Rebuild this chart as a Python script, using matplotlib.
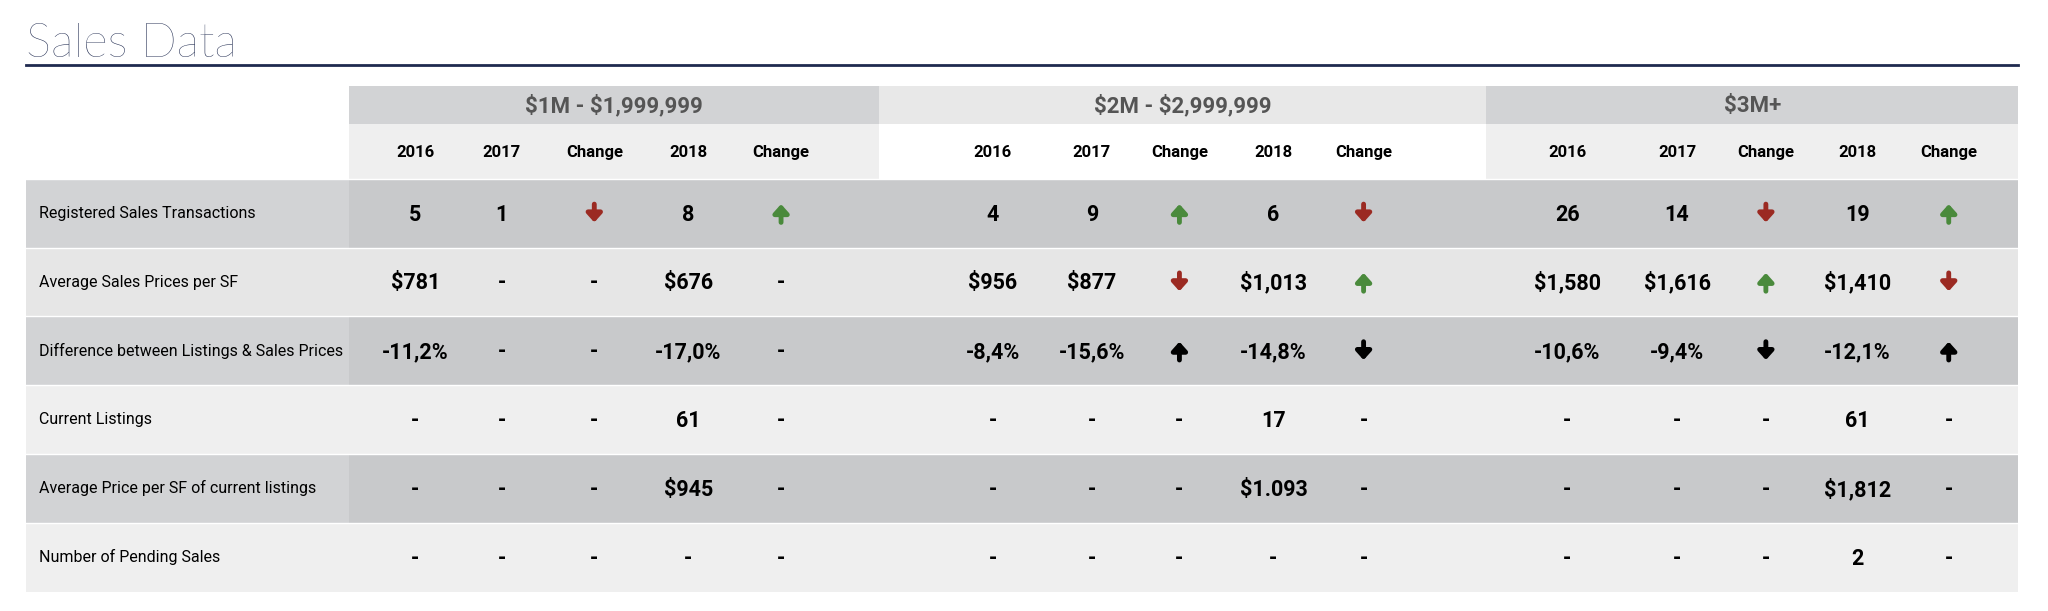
import matplotlib.pyplot as plt
from matplotlib.patches import Rectangle

plt.rcParams["text.parse_math"] = False

groups = ["$1M - $1,999,999", "$2M - $2,999,999", "$3M+"]
columns = ["2016", "2017", "Change", "2018", "Change"]
row_labels = [
    "Registered Sales Transactions",
    "Average Sales Prices per SF",
    "Difference between Listings & Sales Prices",
    "Current Listings",
    "Average Price per SF of current listings",
    "Number of Pending Sales",
]
# U = up green, D = down red, u = up black, d = down black
values_1m = [
    ["5", "1", "D", "8", "U"],
    ["$781", "-", "-", "$676", "-"],
    ["-11,2%", "-", "-", "-17,0%", "-"],
    ["-", "-", "-", "61", "-"],
    ["-", "-", "-", "$945", "-"],
    ["-", "-", "-", "-", "-"],
]
values_2m = [
    ["4", "9", "U", "6", "D"],
    ["$956", "$877", "D", "$1,013", "U"],
    ["-8,4%", "-15,6%", "u", "-14,8%", "d"],
    ["-", "-", "-", "17", "-"],
    ["-", "-", "-", "$1.093", "-"],
    ["-", "-", "-", "-", "-"],
]
values_3m = [
    ["26", "14", "D", "19", "U"],
    ["$1,580", "$1,616", "U", "$1,410", "D"],
    ["-10,6%", "-9,4%", "d", "-12,1%", "u"],
    ["-", "-", "-", "61", "-"],
    ["-", "-", "-", "$1,812", "-"],
    ["-", "-", "-", "2", "-"],
]
all_values = [values_1m, values_2m, values_3m]

W, H = 1568, 468
fig = plt.figure(figsize=(20.48, 6.11), dpi=100)
ax = fig.add_axes([0, 0, 1, 1])
ax.set_xlim(0, W)
ax.set_ylim(H, 0)
ax.axis("off")

FONT = ["Roboto", "DejaVu Sans"]
navy = "#1f2a4f"

ax.text(20, 44, "Sales Data", fontsize=34, color=navy, family="Lato", weight="light", va="baseline")
ax.plot([20, 1545], [50, 50], color=navy, lw=2)

group_x = [(267, 673), (673, 1138), (1138, 1545)]
col_x = [[318, 384, 455, 527, 598], [760, 836, 903, 975, 1044], [1200, 1284, 1352, 1422, 1492]]
group_bg = ["#d2d3d5", "#e8e8e8", "#d2d3d5"]
sub_bg = ["#efefef", "#ffffff", "#efefef"]
row_top = 137
row_h = 52.7
row_bg = ["#c8c9cb", "#e6e6e6", "#c8c9cb", "#efefef", "#c8c9cb", "#efefef"]
label_bg = ["#d2d3d5", "#e6e6e6", "#d2d3d5", "#efefef", "#d2d3d5", "#efefef"]
arrows = {"U": (-1, "#4a8a3c"), "D": (1, "#9b2a22"), "u": (-1, "black"), "d": (1, "black")}

for g, (x0, x1) in enumerate(group_x):
    ax.add_patch(Rectangle((x0, 66), x1 - x0, 29, color=group_bg[g], lw=0))
    ax.add_patch(Rectangle((x0, 95), x1 - x0, 42, color=sub_bg[g], lw=0))
    ax.text((x0 + x1) / 2, 81, groups[g], fontsize=16, weight="bold", color="#555555",
            family=FONT, ha="center", va="center")
    for c, name in enumerate(columns):
        ax.text(col_x[g][c], 117, name, fontsize=12, weight="bold", family=FONT,
                ha="center", va="center")

for r, label in enumerate(row_labels):
    y0 = row_top + r * row_h
    ax.add_patch(Rectangle((20, y0), 247, row_h, color=label_bg[r], lw=0))
    ax.add_patch(Rectangle((267, y0), 1545 - 267, row_h, color=row_bg[r], lw=0))
    ax.plot([20, 1545], [y0, y0], color="white", lw=1)
    yc = y0 + row_h / 2
    ax.text(30, yc, label, fontsize=11.5, family=FONT, ha="left", va="center")
    for g in range(3):
        for c, v in enumerate(all_values[g][r]):
            x = col_x[g][c]
            if v in arrows:
                d, col = arrows[v]
                ax.annotate("", xy=(x, yc + 7 * d), xytext=(x, yc - 7 * d),
                            arrowprops=dict(arrowstyle="-|>,head_width=0.45,head_length=0.5",
                                            lw=3.5, color=col, shrinkA=0, shrinkB=0))
            else:
                ax.text(x, yc + 1, v, fontsize=15.5, weight="bold", family=FONT,
                        ha="center", va="center")

fig.savefig("out.png", dpi=100, facecolor="white")
